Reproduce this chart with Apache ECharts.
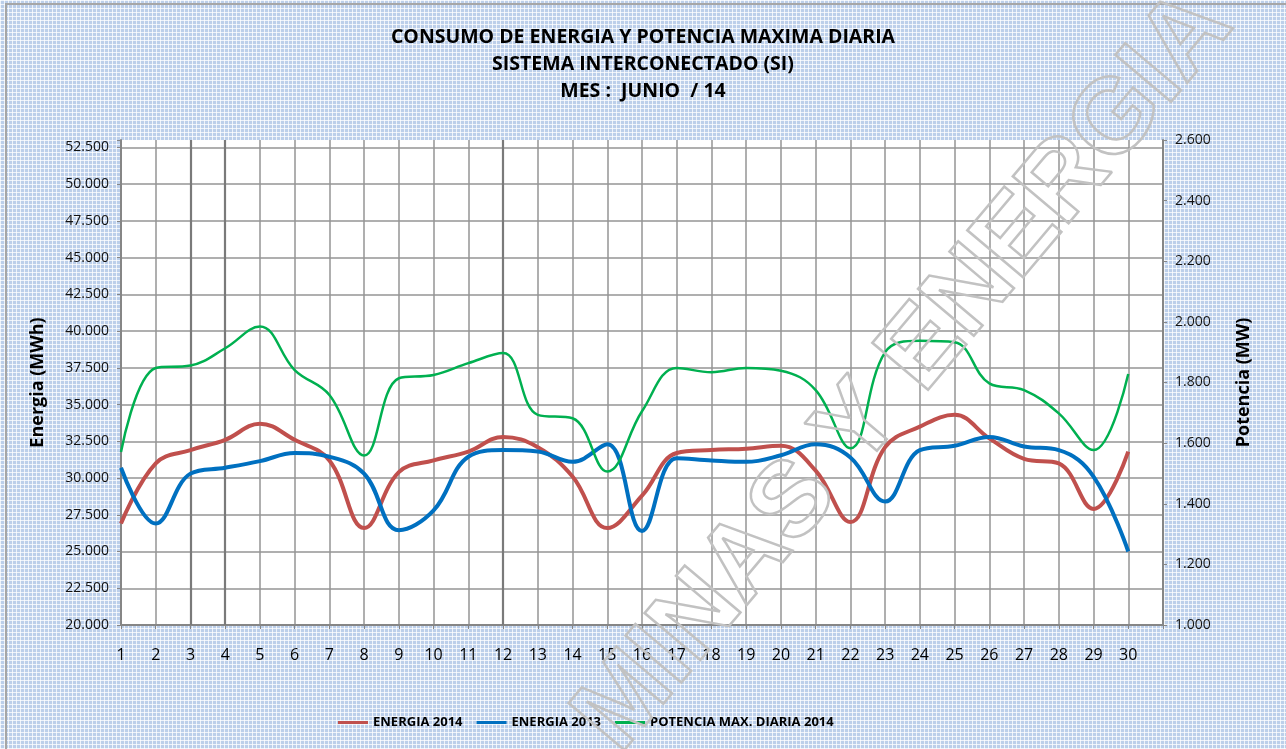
<!DOCTYPE html>
<html>
<head>
<meta charset="utf-8">
<script src="https://cdn.jsdelivr.net/npm/echarts@6/dist/echarts.min.js"></script>
<style>
html,body{margin:0;padding:0;}
#chart{width:1286px;height:749px;
 background-color:#bccfea;
 background-image:linear-gradient(90deg, rgba(255,255,255,0.75) 1px, transparent 1px),
   linear-gradient(rgba(255,255,255,0.75) 1px, transparent 1px);
 background-size:4px 4px;}
</style>
</head>
<body>
<div id="chart"></div>
<script>
var days = [1,2,3,4,5,6,7,8,9,10,11,12,13,14,15,16,17,18,19,20,21,22,23,24,25,26,27,28,29,30];
var energia2014 = [26900,31000,31900,32600,33700,32600,31200,26600,30400,31200,31800,32800,32100,30100,26600,28800,31700,31900,32000,32200,30500,27000,32100,33500,34300,32700,31300,31000,27900,31800];
var energia2013 = [30700,26900,30300,30700,31150,31700,31450,30300,26450,27800,31450,31900,31800,31100,32300,26400,31350,31200,31100,31550,32300,31400,28400,31900,32200,32800,32150,31900,30100,25000];
var potencia2014 = [1571,1848,1856,1913,1985,1841,1759,1559,1814,1825,1864,1897,1693,1682,1506,1705,1848,1834,1848,1839,1775,1583,1900,1938,1933,1797,1775,1698,1577,1828];
var darkGridDays = [3,4,12];
var titleLines = ['CONSUMO DE ENERGIA Y POTENCIA MAXIMA DIARIA','SISTEMA INTERCONECTADO (SI)','MES :  JUNIO  / 14'];
var seriesNames = ['ENERGIA 2014','ENERGIA 2013','POTENCIA MAX. DIARIA 2014'];

function fmt(v){ return String(v).replace(/\B(?=(\d{3})+(?!\d))/g,'.'); }
function pairs(arr){ return arr.map(function(v,i){ return [days[i], v]; }); }

var gridColor = '#959595';
var splitColors = [];
for (var i=0;i<14;i++) splitColors.push(gridColor);
splitColors.push('rgba(0,0,0,0)');

var chart = echarts.init(document.getElementById('chart'), null, {renderer:'canvas'});
var FONT = '"Open Sans", "Noto Sans", sans-serif';
chart.setOption({
  backgroundColor: 'transparent',
  animation: false,
  title: {
    text: titleLines.join('\n'),
    left: 'center', top: 19,
    textStyle: {fontFamily: FONT, fontWeight: 'bold', fontSize: 19.5, lineHeight: 27, color: '#000'}
  },
  legend: {
    data: seriesNames, top: 711, left: 333,
    icon: 'rect', itemWidth: 30, itemHeight: 3, itemGap: 14,
    textStyle: {fontFamily: FONT, fontWeight: 'bold', fontSize: 13, color: '#000'}
  },
  grid: {left: 121, right: 123, top: 140, bottom: 124, show: true, backgroundColor: '#fff', borderWidth: 0},
  xAxis: {
    type: 'value', min: 1, max: 31, interval: 1,
    axisLine: {lineStyle: {color: '#868686', width: 2}},
    axisTick: {show: true, length: 4, lineStyle: {color: '#868686'}},
    axisLabel: {margin: 22, fontFamily: FONT, fontSize: 16, color: '#000',
      formatter: function(v){ return v > 30 ? '' : String(v); }},
    splitLine: {show: true, lineStyle: {color: gridColor, width: 1.5}}
  },
  yAxis: [{
    type: 'value', min: 20000, max: 53000, interval: 2500, position: 'left',
    name: 'Energia (MWh)', nameLocation: 'middle', nameGap: 74,
    nameTextStyle: {fontFamily: FONT, fontWeight: 'bold', fontSize: 18, color: '#000'},
    axisLine: {show: true, lineStyle: {color: '#868686', width: 2}},
    axisTick: {show: true, length: 4, lineStyle: {color: '#868686'}},
    axisLabel: {margin: 12, fontFamily: FONT, fontSize: 14, color: '#111',
      formatter: function(v){ return v > 52500 ? '' : fmt(v); }},
    splitLine: {show: true, lineStyle: {color: splitColors, width: 1.5}}
  },{
    type: 'value', min: 1000, max: 2600, interval: 200, position: 'right',
    name: 'Potencia (MW)', nameLocation: 'middle', nameGap: 72,
    nameTextStyle: {fontFamily: FONT, fontWeight: 'bold', fontSize: 18, color: '#000'},
    axisLine: {show: true, lineStyle: {color: '#868686', width: 2}},
    axisTick: {show: true, length: 4, lineStyle: {color: '#868686'}},
    axisLabel: {margin: 12, fontFamily: FONT, fontSize: 14, color: '#111', formatter: function(v){ return fmt(v); }},
    splitLine: {show: false}
  }],
  series: [{
    name: seriesNames[0], type: 'line', yAxisIndex: 0, smooth: 0.4, symbol: 'none',
    data: pairs(energia2014), z: 3,
    lineStyle: {color: '#c0504d', width: 4}, itemStyle: {color: '#c0504d'},
    markLine: {silent: true, symbol: 'none', label: {show: false},
      lineStyle: {color: '#7a7a7a', width: 2.2, type: 'solid'},
      data: darkGridDays.map(function(d){ return {xAxis: d}; }), z: 1}
  },{
    name: seriesNames[1], type: 'line', yAxisIndex: 0, smooth: 0.4, symbol: 'none',
    data: pairs(energia2013), z: 4,
    lineStyle: {color: '#0070c0', width: 4}, itemStyle: {color: '#0070c0'}
  },{
    name: seriesNames[2], type: 'line', yAxisIndex: 1, smooth: 0.4, symbol: 'none',
    data: pairs(potencia2014), z: 5,
    lineStyle: {color: '#00b050', width: 2.5}, itemStyle: {color: '#00b050'}
  }],
  graphic: [{
    type: 'rect', z: -1, silent: true,
    shape: {x: 6, y: 4, width: 1400, height: 900},
    style: {fill: 'none', stroke: '#a6a6a6', lineWidth: 2}
  },{
    type: 'text', z: 100, silent: true, x: 905, y: 372, rotation: 0.87,
    style: {text: 'MINAS Y ENERGIA', x: 0, y: 0, align: 'center', verticalAlign: 'middle',
      font: 'bold 106px "Liberation Sans", sans-serif', fill: 'rgba(0,0,0,0)', stroke: '#c2c2c2', lineWidth: 2.5}
  }]
});
</script>
</body>
</html>
